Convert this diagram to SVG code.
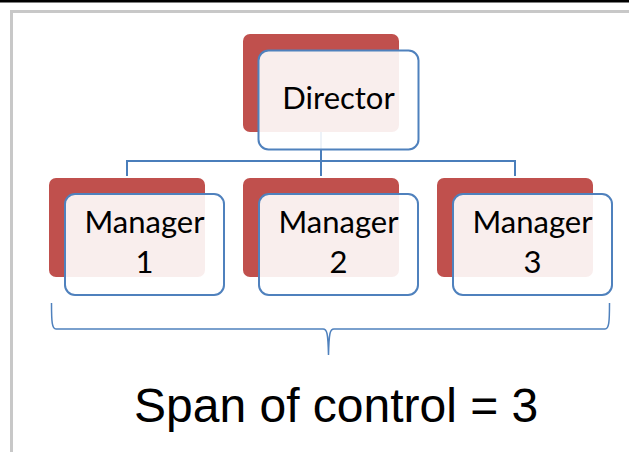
<svg xmlns="http://www.w3.org/2000/svg" width="629" height="452" viewBox="0 0 629 452">
<style>
.back{fill:#c0504d}
.front{fill:#ffffff;fill-opacity:0.9;stroke:#4f81bd;stroke-width:2}
.lbl{font-family:Lato,"Open Sans","Liberation Sans",sans-serif;font-size:31px;fill:#000;text-anchor:middle}
.conn{fill:none;stroke:#4a7ebb;stroke-width:2}
</style>
<rect x="0" y="0" width="629" height="452" fill="#fff"/>
<rect x="0" y="0" width="629" height="2.5" fill="#000"/>
<path d="M11.5,452 V11.5 H629" fill="none" stroke="#c8c8c8" stroke-width="3"/>
<g id="connectors">
<path class="conn" d="M321,132 V161 M127,161 H515 M127,160 V176 M321,161 V176 M515,160 V176"/>
</g>
<g id="director">
<rect class="back" x="243" y="34" width="156" height="98" rx="7"/>
<rect class="front" x="258.5" y="50.5" width="160" height="99" rx="10"/>
<text class="lbl" x="338.5" y="109">Director</text>
</g>
<g id="manager1">
<rect class="back" x="49" y="178" width="156" height="99" rx="7"/>
<rect class="front" x="65" y="194" width="159" height="101" rx="10"/>
<text class="lbl" x="144.5" y="233">Manager</text>
<text class="lbl" x="144.5" y="273">1</text>
</g>
<g id="manager2">
<rect class="back" x="243" y="178" width="156" height="99" rx="7"/>
<rect class="front" x="259" y="194" width="159" height="101" rx="10"/>
<text class="lbl" x="338.5" y="233">Manager</text>
<text class="lbl" x="338.5" y="273">2</text>
</g>
<g id="manager3">
<rect class="back" x="437" y="178" width="156" height="99" rx="7"/>
<rect class="front" x="453" y="194" width="159" height="101" rx="10"/>
<text class="lbl" x="532.5" y="233">Manager</text>
<text class="lbl" x="532.5" y="273">3</text>
</g>
<g id="brace">
<path d="M51.5,303 C51.5,322 52,329 56,329 L323,329 C327,329 328,333 328.5,355 C329,333 330,329 334,329 L605,329 C609,329 609.5,322 609.5,303" fill="none" stroke="#4f81bd" stroke-width="1.5"/>
</g>
<text x="134" y="422" font-family="'Liberation Sans',Arial,sans-serif" font-size="48" fill="#000">Span of control = 3</text>
</svg>
